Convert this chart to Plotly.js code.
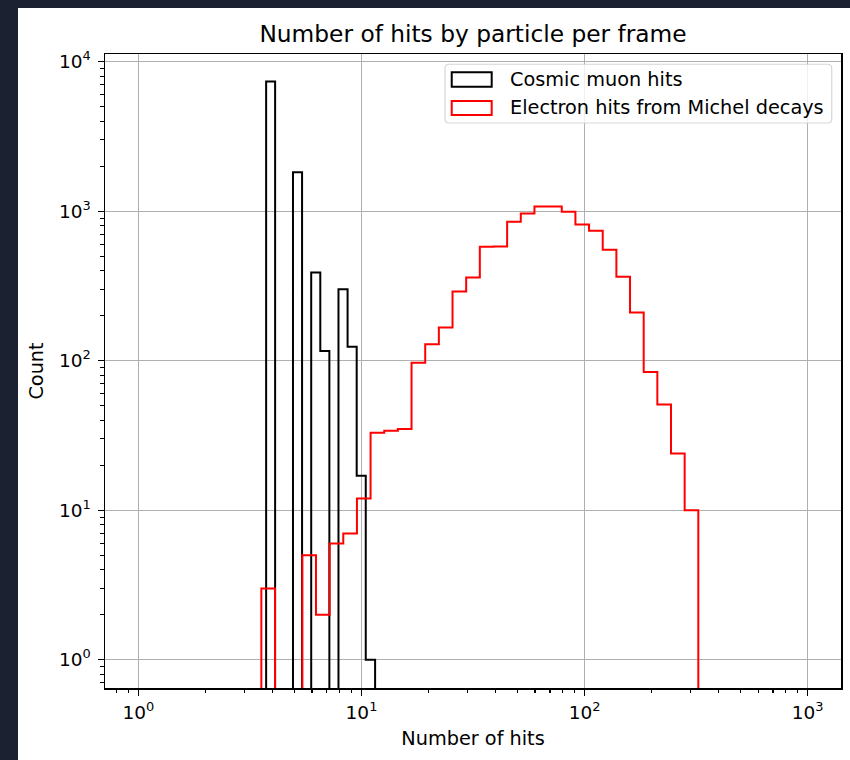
<!DOCTYPE html>
<html>
<head>
<meta charset="utf-8">
<script src="https://cdn.plot.ly/plotly-3.0.1.min.js"></script>
<style>
html, body { margin: 0; padding: 0; width: 850px; height: 760px; overflow: hidden; background: #1b2130; }
#chart { position: absolute; left: 18px; top: 8px; width: 832px; height: 752px; background: #ffffff; }
</style>
</head>
<body>
<div id="chart"></div>
<script>
// ---- data ----
const seriesNames = ['Cosmic muon hits', 'Electron hits from Michel decays'];

// Cosmic muon histogram: bin edges (number of hits) and counts
const muonEdges = [3.737, 4.100, 4.493, 4.930, 5.415, 5.950, 6.536, 7.178, 7.886, 8.663, 9.517, 10.45, 11.51];
const muonCounts = [7360, 0, 0, 1820, 0, 389, 116, 0, 301, 124, 17, 1];

// Michel electron histogram: bin edges and counts
const michelEdges = [3.556, 4.095, 4.715, 5.429, 6.251, 7.197, 8.286, 9.541, 10.985, 12.649,
  14.563, 16.768, 19.307, 22.230, 25.595, 29.471, 33.932, 39.069, 44.984, 51.795,
  59.636, 68.665, 79.060, 91.030, 104.81, 120.68, 138.95, 159.99, 184.21, 212.10,
  244.21, 281.19, 323.75];
const michelCounts = [3, 0, 0, 5, 2, 6, 7, 12, 33, 34,
  35, 97, 129, 167, 290, 360, 578, 581, 849, 967,
  1077, 1075, 991, 815, 739, 552, 364, 210, 84, 51,
  24, 10];

const xTickVals = [1, 10, 100, 1000];
const xTickText = ['10<sup>0</sup>', '10<sup>1</sup>', '10<sup>2</sup>', '10<sup>3</sup>'];
const yTickVals = [1, 10, 100, 1000, 10000];
const yTickText = ['10<sup>0</sup>', '10<sup>1</sup>', '10<sup>2</sup>', '10<sup>3</sup>', '10<sup>4</sup>'];

// ---- helpers ----
const FLOOR = 1e-3; // empty bins fall below the visible axis range (like matplotlib's clipping)
function stepXY(edges, counts) {
  const x = [edges[0]], y = [FLOOR];
  for (let i = 0; i < counts.length; i++) {
    x.push(edges[i]);
    y.push(counts[i] > 0 ? counts[i] : FLOOR);
  }
  x.push(edges[edges.length - 1]);
  y.push(FLOOR);
  return { x, y };
}
function minorVals(d0, d1) {
  const v = [];
  for (let d = d0; d <= d1; d++) for (let m = 2; m <= 9; m++) v.push(m * Math.pow(10, d));
  return v;
}

const muon = stepXY(muonEdges, muonCounts);
const michel = stepXY(michelEdges, michelCounts);

const FONT = 'DejaVu Sans, Verdana, sans-serif';
const LABEL_SIZE = 19.3;
const TICK_SIZE = 18.5;
const TITLE_SIZE = 23.3;

const traces = [
  { type: 'scatter', mode: 'lines', name: seriesNames[0], x: muon.x, y: muon.y,
    line: { shape: 'hv', color: '#000000', width: 2 }, showlegend: false, hoverinfo: 'skip' },
  { type: 'scatter', mode: 'lines', name: seriesNames[1], x: michel.x, y: michel.y,
    line: { shape: 'hv', color: '#ff0000', width: 2 }, showlegend: false, hoverinfo: 'skip' }
];

// legend drawn matplotlib-style (rounded frame + outlined patches)
const PW = 736, PH = 634;
function roundRect(x0, y0, x1, y1, r) {
  const rx = r / PW, ry = r / PH;
  return `M ${x0 + rx} ${y0} L ${x1 - rx} ${y0} Q ${x1} ${y0} ${x1} ${y0 + ry} L ${x1} ${y1 - ry} Q ${x1} ${y1} ${x1 - rx} ${y1} L ${x0 + rx} ${y1} Q ${x0} ${y1} ${x0} ${y1 - ry} L ${x0} ${y0 + ry} Q ${x0} ${y0} ${x0 + rx} ${y0} Z`;
}
const shapes = [
  { type: 'path', xref: 'paper', yref: 'paper', path: roundRect(0.462, 0.8912, 0.9874, 0.9838, 4),
    fillcolor: 'rgba(255,255,255,0.8)', line: { color: 'rgba(204,204,204,0.8)', width: 1.2 } },
  { type: 'rect', xref: 'paper', yref: 'paper', x0: 0.4711, x1: 0.5254, y0: 0.9485, y1: 0.9712,
    fillcolor: 'rgba(0,0,0,0)', line: { color: '#000000', width: 2 } },
  { type: 'rect', xref: 'paper', yref: 'paper', x0: 0.4711, x1: 0.5254, y0: 0.9038, y1: 0.9259,
    fillcolor: 'rgba(0,0,0,0)', line: { color: '#ff0000', width: 2 } }
];
const annotations = [
  { xref: 'paper', yref: 'paper', x: 0.548, y: 0.9598, xanchor: 'left', yanchor: 'middle',
    text: seriesNames[0], showarrow: false, font: { family: FONT, size: LABEL_SIZE, color: '#000' } },
  { xref: 'paper', yref: 'paper', x: 0.548, y: 0.9149, xanchor: 'left', yanchor: 'middle',
    text: seriesNames[1], showarrow: false, font: { family: FONT, size: LABEL_SIZE, color: '#000' } }
];

const axisCommon = {
  type: 'log', showline: true, linecolor: '#000', linewidth: 1.5, mirror: true,
  ticks: 'outside', ticklen: 6, tickwidth: 1.4, tickcolor: '#000',
  tickmode: 'array',
  showgrid: true, gridcolor: '#b0b0b0', gridwidth: 1.3, zeroline: false,
  tickfont: { family: FONT, size: TICK_SIZE, color: '#000' },
  minor: { tickmode: 'array', ticks: 'outside', ticklen: 3.6, tickwidth: 1.1, tickcolor: '#000', showgrid: false }
};

const layout = {
  width: 832, height: 752,
  margin: { l: 87, r: 9, t: 46, b: 72 },
  paper_bgcolor: '#ffffff', plot_bgcolor: '#ffffff',
  font: { family: FONT, color: '#000' },
  showlegend: false,
  title: { text: 'Number of hits by particle per frame', font: { family: FONT, size: TITLE_SIZE, color: '#000' },
    x: 0.5, xref: 'paper', xanchor: 'center', y: 0.9654, yref: 'container', yanchor: 'middle' },
  xaxis: Object.assign({}, axisCommon, {
    range: [-0.15, 3.15], tickvals: xTickVals, ticktext: xTickText, ticklabelstandoff: 1,
    minor: Object.assign({}, axisCommon.minor, { tickvals: minorVals(-1, 3) }),
    title: { text: 'Number of hits', font: { family: FONT, size: LABEL_SIZE, color: '#000' }, standoff: 10 }
  }),
  yaxis: Object.assign({}, axisCommon, {
    range: [-0.189, 4.0515], tickvals: yTickVals, ticktext: yTickText, ticklabelstandoff: 3,
    minor: Object.assign({}, axisCommon.minor, { tickvals: minorVals(-1, 4) }),
    title: { text: 'Count', font: { family: FONT, size: LABEL_SIZE, color: '#000' }, standoff: 10 }
  }),
  shapes: shapes,
  annotations: annotations
};

Plotly.newPlot('chart', traces, layout, { staticPlot: true, displayModeBar: false });
</script>
</body>
</html>
